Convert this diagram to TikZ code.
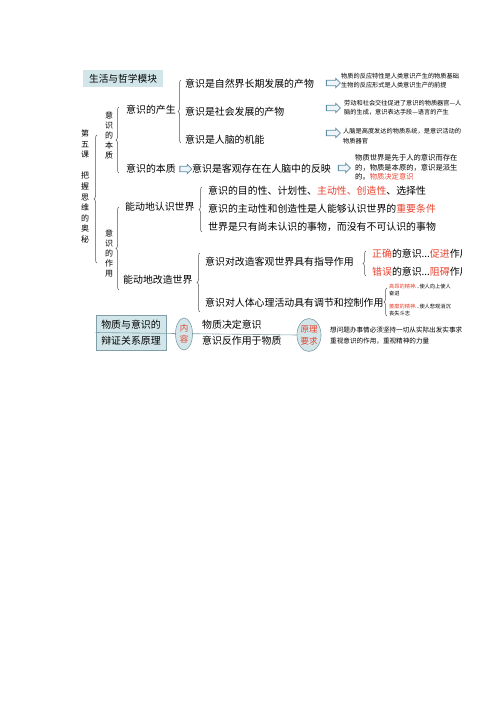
\documentclass[tikz,border=0pt]{standalone}
\usepackage{fontspec}
\setmainfont{Noto Sans CJK SC}
\usetikzlibrary{shapes.arrows,shapes.geometric,decorations.pathreplacing}
\definecolor{hl}{HTML}{E8412C}
\definecolor{boxfill}{HTML}{D2E6EA}
\definecolor{boxline}{HTML}{7F9EA8}
\definecolor{arrline}{HTML}{5E8EA6}
\definecolor{arrfill}{HTML}{EEF4F7}
\definecolor{brcol}{HTML}{555555}
\begin{document}
\begin{tikzpicture}[x=1pt,y=-1pt,
  main/.style={anchor=west,inner sep=0pt,font=\fontsize{9.9}{12}\selectfont},
  small/.style={anchor=west,inner sep=0pt,align=left,font=\fontsize{6.2}{9.5}\selectfont},
  vtext/.style={inner sep=0pt,align=center,font=\fontsize{8}{10.6}\selectfont},
  harrow/.style={single arrow,draw=arrline,fill=arrfill,line width=0.8pt,minimum height=14pt,inner sep=2.3pt,single arrow head extend=2pt},
  brc/.style={draw=brcol,line width=0.5pt,decorate,decoration={brace,amplitude=3pt}},
  oval/.style={ellipse,draw=boxline,fill=boxfill,line width=0.6pt,inner sep=0pt,text=hl,align=center}
  ]
\useasboundingbox (0,0) rectangle (500,708);
\begin{scope}
\clip (0,0) rectangle (461,708);
% header
\node[fill=boxfill,minimum width=80pt,minimum height=17pt,inner sep=0pt,font=\fontsize{9.7}{12}\selectfont] (hdr) at (123,78.5) {生活与哲学模块};
% vertical texts
\node[vtext] (v1) at (85,186.5) {第\\五\\课\\[10.6pt]把\\握\\思\\维\\的\\奥\\秘};
\node[vtext,font=\fontsize{8}{10}\selectfont] (v2) at (109,135) {意\\识\\的\\本\\质};
\node[vtext,font=\fontsize{8}{10}\selectfont] (v3) at (109,253.5) {意\\识\\的\\作\\用};
% braces
\draw[brc] (97,263) -- (97,135);
\draw[brc] (119,173) -- (119,107);
\draw[brc] (119,290) -- (119,207);
\draw[brc] (181,143) -- (181,80);
\draw[brc] (202,232) -- (202,187);
\draw[brc] (200,312) -- (200,253);
\draw[brc] (366,276) -- (366,251);
\draw[brc] (387,316) -- (387,288);
% level 2
\node[main] (cs) at (126,110) {意识的产生};
\node[main] (bz) at (126,169) {意识的本质};
\node[main] (rs) at (125,207) {能动地认识世界};
\node[main] (gz) at (123,280) {能动地改造世界};
% origin
\node[main] (o1) at (185,84) {意识是自然界长期发展的产物};
\node[main] (o2) at (185,112) {意识是社会发展的产物};
\node[main] (o3) at (185,140) {意识是人脑的机能};
\node[harrow] (a1) at (332,83) {};
\node[harrow] (a2) at (332,108) {};
\node[harrow] (a3) at (332,133) {};
\node[small] (s1) at (341,80.5) {物质的反应特性是人类意识产生的物质基础\\生物的反应形式是人类意识生产的前提};
\node[small] (s2) at (344,107.5) {劳动和社会交往促进了意识的物质器官—人\\脑的生成，意识表达手段—语言的产生};
\node[small] (s3) at (343,136) {人脑是高度发达的物质系统，是意识活动的\\物质器官};
% essence
\node[harrow,minimum height=12pt] (a4) at (184.5,169) {};
\node[main] (e1) at (192,169) {意识是客观存在在人脑中的反映};
\node[harrow,minimum height=12pt] (a5) at (343,168) {};
\node[small,font=\fontsize{7.3}{9.5}\selectfont] (s4) at (355,167.5) {物质世界是先于人的意识而存在\\的，物质是本原的，意识是派生\\的。\textcolor{hl}{物质决定意识}};
% knowing
\node[main] (k1) at (208,191) {意识的目的性、计划性、\textcolor{hl}{主动性、创造性}、选择性};
\node[main] (k2) at (208,208.5) {意识的主动性和创造性是人能够认识世界的\textcolor{hl}{重要条件}};
\node[main] (k3) at (208,227) {世界是只有尚未认识的事物，而没有不可认识的事物};
% transforming
\node[main] (t1) at (205,262) {意识对改造客观世界具有指导作用};
\node[main] (t2) at (205,303) {意识对人体心理活动具有调节和控制作用};
\node[main] (t3) at (372,254) {\textcolor{hl}{正确}的意识...\textcolor{hl}{促进}作用};
\node[main] (t4) at (372,272) {\textcolor{hl}{错误}的意识...\textcolor{hl}{阻碍}作用};
\node[small,font=\fontsize{5.2}{7}\selectfont] (t5) at (389,290.5) {\textcolor{hl}{高昂的精神}...使人向上使人\\奋进};
\node[small,font=\fontsize{5.2}{7}\selectfont] (t6) at (389,310.5) {\textcolor{hl}{萎靡的精神}...使人悲观消沉\\丧失斗志};
% bottom
\node[draw=boxline,fill=boxfill,line width=0.6pt,minimum width=70pt,minimum height=35pt,inner sep=0pt,align=center,font=\fontsize{9.9}{16}\selectfont] (mb) at (131,332.5) {物质与意识的\\辩证关系原理};
\node[oval,minimum width=23pt,minimum height=33pt,font=\fontsize{8.5}{12}\selectfont] (req) at (309,335) {原理\\要求};
\draw[boxline,line width=0.6pt] (mb.west) -- (req.west);
\node[oval,minimum width=17pt,minimum height=32pt,font=\fontsize{8.5}{11}\selectfont] (con) at (184,334) {内\\容};
\node[main] (b1) at (202,325) {物质决定意识};
\node[main] (b2) at (202,341) {意识反作用于物质};
\node[small,font=\fontsize{6.6}{9}\selectfont] (b3) at (330,330) {想问题办事情必须坚持一切从实际出发实事求是};
\node[small,font=\fontsize{6.6}{9}\selectfont] (b4) at (330,341) {重视意识的作用，重视精神的力量};
\end{scope}
\end{tikzpicture}
\end{document}
